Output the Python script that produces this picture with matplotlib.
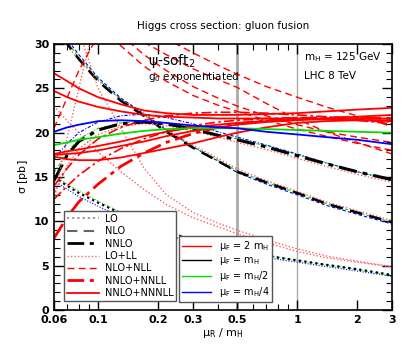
import numpy as np
import matplotlib
matplotlib.use("Agg")
import matplotlib.pyplot as plt
from matplotlib.lines import Line2D
from matplotlib.ticker import FixedLocator, NullFormatter, MultipleLocator

# mu_R / m_H grid used for all curves
mur = [0.06, 0.07, 0.08, 0.1, 0.13, 0.17, 0.22, 0.3, 0.4, 0.5, 0.7, 1.0, 1.4, 2.0, 3.0]

# fixed order (black = muF=mH, green = mH/2, blue = mH/4, red = 2mH)
lo_black = [15.0, 14.0, 13.2, 12.1, 10.9, 9.8, 8.8, 7.9, 7.2, 6.7, 6.1, 5.6, 5.1, 4.6, 3.95]
lo_green = [15.2, 14.2, 13.4, 12.3, 11.0, 9.9, 8.9, 8.0, 7.3, 6.8, 6.2, 5.6, 5.1, 4.6, 3.9]
lo_blue = [14.6, 13.6, 12.8, 11.7, 10.5, 9.5, 8.5, 7.6, 6.9, 6.5, 5.9, 5.4, 4.9, 4.4, 3.8]
lo_red = [23.0, 21.3, 20.0, 17.8, 15.6, 13.6, 11.9, 10.4, 9.4, 8.6, 7.6, 6.6, 5.9, 5.4, 4.85]

nlo_black = [32.5, 30.0, 28.3, 25.8, 23.6, 21.9, 20.1, 18.3, 16.8, 15.6, 14.4, 13.2, 12.0, 11.0, 9.9]
nlo_green = [32.7, 30.2, 28.5, 26.0, 23.7, 22.0, 20.2, 18.4, 16.9, 15.7, 14.4, 13.2, 12.0, 11.0, 9.9]
nlo_blue = [33.0, 30.5, 28.8, 26.2, 23.9, 22.1, 20.3, 18.4, 16.8, 15.5, 14.2, 13.0, 11.8, 10.8, 9.7]
nlo_red = [32.0, 29.8, 28.2, 25.9, 23.8, 22.2, 20.4, 18.6, 17.1, 15.9, 14.6, 13.4, 12.2, 11.2, 10.1]

nnlo_black = [14.6, 17.5, 19.0, 20.3, 21.0, 21.2, 21.0, 20.4, 19.7, 19.2, 18.4, 17.4, 16.5, 15.6, 14.7]
nnlo_green = [15.5, 17.8, 19.3, 20.5, 21.1, 21.3, 21.1, 20.5, 19.8, 19.3, 18.5, 17.5, 16.6, 15.6, 14.7]
nnlo_blue = [17.0, 18.8, 20.0, 21.2, 21.9, 22.1, 21.7, 21.0, 20.1, 19.5, 18.6, 17.6, 16.6, 15.6, 14.6]
nnlo_red = [13.0, 16.3, 18.2, 19.8, 20.7, 21.0, 20.8, 20.2, 19.5, 18.9, 18.1, 17.1, 16.2, 15.3, 14.4]

# resummed curves
ll_a = [42.0, 36.0, 31.5, 25.0, 20.5, 16.0, 13.0, 11.0, 9.8, 9.0, 7.9, 6.9, 6.1, 5.5, 4.9]
ll_b = [12.5, 19.5, 25.0, 34.0, 40.0, 45.0, 48.0, 50.0, 50.0, 50.0, 50.0, 50.0, 50.0, 50.0, 50.0]

nll_a = [35.0, 34.0, 33.0, 32.3, 31.3, 30.2, 28.8, 27.2, 26.0, 25.1, 23.3, 21.5, 20.1, 18.9, 17.6]
nll_b = [38.0, 37.0, 36.0, 35.0, 33.5, 32.0, 30.6, 29.0, 27.6, 26.6, 25.2, 24.0, 22.9, 21.9, 20.7]
nll_c = [45.0, 41.0, 38.0, 34.0, 31.0, 28.8, 27.0, 25.2, 23.9, 23.0, 21.9, 20.9, 20.1, 19.5, 18.9]
nll_d = [44.0, 40.0, 37.0, 33.0, 29.8, 27.5, 25.8, 24.2, 23.1, 22.4, 21.4, 20.4, 19.6, 18.8, 18.0]
nll_e = [20.5, 24.0, 27.0, 31.0, 35.0, 38.0, 40.0, 40.0, 40.0, 40.0, 40.0, 40.0, 40.0, 40.0, 40.0]

nnll_a = [8.1, 10.5, 12.2, 14.2, 16.2, 17.7, 18.9, 19.9, 20.6, 21.0, 21.4, 21.6, 21.7, 21.7, 21.6]
nnll_b = [14.0, 16.0, 17.5, 19.3, 20.6, 21.4, 21.9, 22.2, 22.3, 22.3, 22.2, 22.0, 21.8, 21.5, 21.2]
nnll_c = [12.5, 14.0, 15.2, 16.8, 18.2, 19.3, 20.1, 20.8, 21.2, 21.4, 21.6, 21.7, 21.6, 21.4, 21.0]

n3ll_red1 = [26.7, 25.8, 25.0, 24.0, 23.2, 22.5, 22.2, 22.0, 22.0, 22.0, 22.1, 22.2, 22.4, 22.6, 22.8]
n3ll_red2 = [24.7, 24.0, 23.5, 22.9, 22.4, 22.0, 21.8, 21.7, 21.6, 21.6, 21.6, 21.6, 21.6, 21.6, 21.6]
n3ll_red3 = [17.5, 17.6, 17.7, 18.0, 18.5, 19.0, 19.6, 20.2, 20.6, 20.9, 21.2, 21.4, 21.6, 21.8, 22.0]
n3ll_red4 = [17.3, 17.0, 16.9, 16.9, 17.2, 17.7, 18.2, 18.8, 19.5, 20.0, 20.6, 21.1, 21.3, 21.4, 21.4]
n3ll_red5 = [17.6, 17.9, 18.1, 18.5, 19.0, 19.6, 20.1, 20.6, 20.9, 21.1, 21.3, 21.5, 21.5, 21.4, 21.3]
n3ll_green = [18.6, 18.9, 19.2, 19.5, 19.9, 20.2, 20.4, 20.5, 20.5, 20.5, 20.4, 20.3, 20.2, 20.1, 20.0]
n3ll_blue = [20.1, 20.6, 20.9, 21.3, 21.4, 21.3, 21.1, 20.8, 20.6, 20.5, 20.1, 19.8, 19.5, 19.2, 18.7]

xticks = [0.06, 0.1, 0.2, 0.3, 0.5, 1, 2, 3]
xtick_labels = ["0.06", "0.1", "0.2", "0.3", "0.5", "1", "2", "3"]

RED = "#ff0000"
PINK = "#ff6060"
GREEN = "#00dd00"
BLUE = "#0000ff"

dot = (0, (1, 1.5))
dash = (0, (5, 3))
dashdot = (0, (6, 2, 1.5, 2))
thin_dash = (0, (3, 2))
thin_dd = (0, (3, 1.5, 1, 1.5))

fig = plt.figure(figsize=(4.11, 3.56), dpi=100)
ax = fig.add_axes([54 / 411, 46 / 356, 338 / 411, 266 / 356])
ax.set_xscale("log")

ax.axvline(0.5, color="#aaaaaa", lw=2, zorder=1)
ax.axvline(1.0, color="#aaaaaa", lw=1, zorder=1)

# fixed order curves
ax.plot(mur, lo_red, color=PINK, lw=1, ls=dot)
ax.plot(mur, lo_blue, color=BLUE, lw=0.8, ls=dot)
ax.plot(mur, lo_green, color=GREEN, lw=0.8, ls=dot)
ax.plot(mur, lo_black, color="black", lw=1.6, ls=dot)

ax.plot(mur, nlo_red, color=PINK, lw=1, ls=dot)
ax.plot(mur, nlo_blue, color=BLUE, lw=0.8, ls=thin_dash)
ax.plot(mur, nlo_green, color=GREEN, lw=0.8, ls=thin_dash)
ax.plot(mur, nlo_black, color="black", lw=1.8, ls=dash)

ax.plot(mur, nnlo_red, color=PINK, lw=1, ls=dot)
ax.plot(mur, nnlo_blue, color=BLUE, lw=0.8, ls=thin_dd)
ax.plot(mur, nnlo_green, color=GREEN, lw=0.8, ls=thin_dd)
ax.plot(mur, nnlo_black, color="black", lw=2.2, ls=dashdot)

# resummed curves
for ys in [ll_a, ll_b]:
    ax.plot(mur, ys, color=PINK, lw=1, ls=dot)
for ys in [nll_a, nll_b, nll_c, nll_d, nll_e]:
    ax.plot(mur, ys, color=RED, lw=1, ls=dash)
ax.plot(mur, nnll_a, color=RED, lw=2, ls=dashdot)
for ys in [nnll_b, nnll_c]:
    ax.plot(mur, ys, color=RED, lw=1.2, ls=dashdot)
for ys in [n3ll_red1, n3ll_red2, n3ll_red3, n3ll_red4, n3ll_red5]:
    ax.plot(mur, ys, color=RED, lw=1.3)
ax.plot(mur, n3ll_green, color=GREEN, lw=1.3)
ax.plot(mur, n3ll_blue, color=BLUE, lw=1.3)

ax.set_xlim(0.06, 3)
ax.set_ylim(0, 30)
ax.xaxis.set_major_locator(FixedLocator(xticks))
ax.set_xticklabels(xtick_labels)
ax.xaxis.set_minor_locator(FixedLocator([0.07, 0.08, 0.09, 0.4, 0.6, 0.7, 0.8, 0.9]))
ax.xaxis.set_minor_formatter(NullFormatter())
ax.yaxis.set_major_locator(MultipleLocator(5))
ax.yaxis.set_minor_locator(MultipleLocator(1))
ax.tick_params(which="both", direction="in", top=True, right=True)
ax.tick_params(which="major", length=7, width=1, labelsize=8)
ax.tick_params(which="minor", length=4, width=0.8)
for lab in ax.get_xticklabels() + ax.get_yticklabels():
    lab.set_fontweight("bold")
for s in ax.spines.values():
    s.set_linewidth(1.2)

ax.set_xlabel(r"$\mathregular{\mu_R}$ / $\mathregular{m_H}$", fontsize=8, labelpad=1)
ax.set_ylabel(r"$\mathregular{\sigma}$ [pb]", fontsize=8, labelpad=3)
fig.text(223 / 411, 1 - 26 / 356, "Higgs cross section: gluon fusion", ha="center", va="center", fontsize=7.5)

ax.text(0.178, 28.1, r"$\mathregular{\psi}$-soft$_\mathregular{2}$", fontsize=10, va="center")
ax.text(0.178, 26.3, r"g$_\mathregular{0}$ exponentiated", fontsize=7.5, va="center")
ax.text(1.08, 28.5, r"m$_\mathregular{H}$ = 125 GeV", fontsize=7.5, va="center")
ax.text(1.08, 26.4, "LHC 8 TeV", fontsize=7.5, va="center")

h1 = [
    Line2D([], [], color="#999999", lw=1.5, ls=dot),
    Line2D([], [], color="#666666", lw=1.5, ls=dash),
    Line2D([], [], color="black", lw=2, ls=dashdot),
    Line2D([], [], color=PINK, lw=1, ls=dot),
    Line2D([], [], color=RED, lw=1, ls=dash),
    Line2D([], [], color=RED, lw=2, ls=dashdot),
    Line2D([], [], color=RED, lw=1.3),
]
l1 = ["LO", "NLO", "NNLO", "LO+LL", "NLO+NLL", "NNLO+NNLL", "NNLO+NNNLL"]
leg1 = ax.legend(h1, l1, loc="lower left", bbox_to_anchor=(0.015, 0.015), fontsize=7,
                 handlelength=3.3, labelspacing=0.25, borderpad=0.3, handletextpad=0.6,
                 fancybox=False, framealpha=1, edgecolor="#555555")
leg1.get_frame().set_linewidth(1)
ax.add_artist(leg1)

h2 = [Line2D([], [], color=c, lw=1) for c in [RED, "black", GREEN, BLUE]]
l2 = [r"$\mathregular{\mu_F}$ = 2 m$_\mathregular{H}$", r"$\mathregular{\mu_F}$ = m$_\mathregular{H}$",
      r"$\mathregular{\mu_F}$ = m$_\mathregular{H}$/2", r"$\mathregular{\mu_F}$ = m$_\mathregular{H}$/4"]
leg2 = ax.legend(h2, l2, loc="lower left", bbox_to_anchor=(0.355, 0.012), fontsize=7,
                 handlelength=3.0, labelspacing=0.2, borderpad=0.3, handletextpad=0.8,
                 fancybox=False, framealpha=1, edgecolor="#555555")
leg2.get_frame().set_linewidth(1)

fig.savefig("out.png", dpi=100)
